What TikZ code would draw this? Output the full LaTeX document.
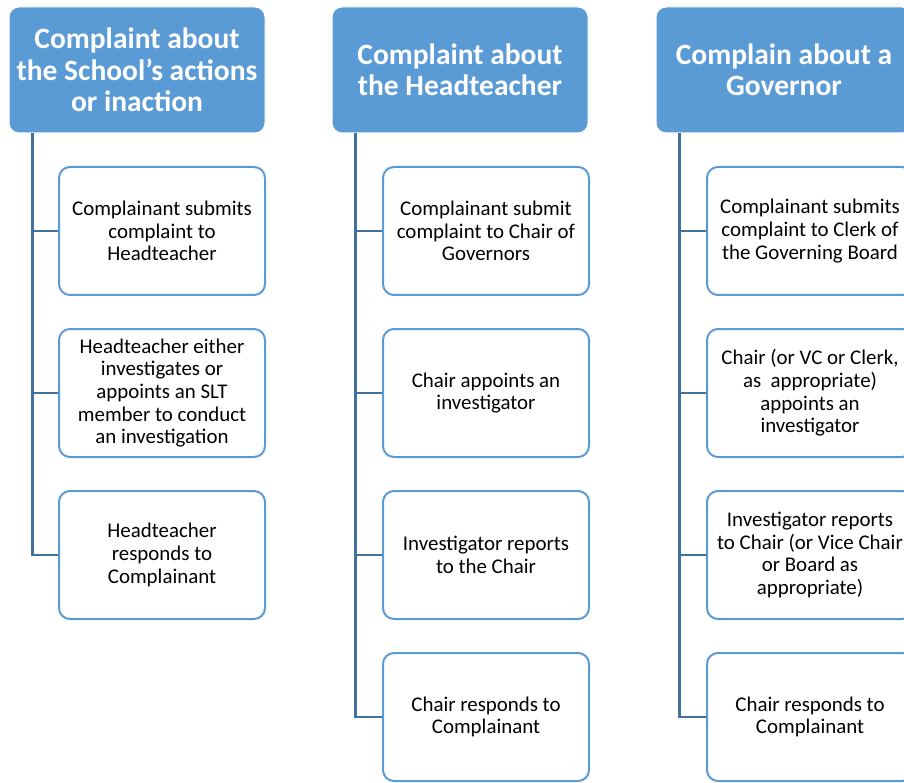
\documentclass[tikz,border=0pt]{standalone}
\usepackage{fontspec}
\setmainfont{Carlito}
\usetikzlibrary{calc}
\definecolor{headblue}{HTML}{5B9BD5}
\definecolor{edgeblue}{HTML}{5B9BD5}
\definecolor{linkblue}{HTML}{41719C}
\tikzset{
  header/.style={rectangle, rounded corners=10pt, fill=headblue, draw=white, line width=1pt,
    minimum width=256pt, minimum height=126pt, text=white, align=center,
    font=\fontsize{29.5}{31.5}\selectfont\bfseries, inner sep=0pt},
  stepbox/.style={rectangle, rounded corners=11pt, fill=white, draw=edgeblue, line width=2pt,
    minimum width=206pt, minimum height=128pt, text=black, align=center,
    font=\fontsize{20.9}{22.6}\selectfont, inner sep=0pt},
  conn/.style={draw=linkblue, line width=2.6pt}
}
\begin{document}
\begin{tikzpicture}[x=1pt,y=-1pt]
\useasboundingbox (0,0) rectangle (904,783);
\clip (0,0) rectangle (904,783);

% column headers
\node[header] (h1) at (137,70) {Complaint about\\the School’s actions\\or inaction};
\node[header] (h2) at (460,70) {Complaint about\\the Headteacher};
\node[header] (h3) at (784,70) {Complain about a\\Governor};

% column 1 steps
\node[stepbox] (a1) at (162,231) {Complainant submits\\complaint to\\Headteacher};
\node[stepbox] (a2) at (162,393) {Headteacher either\\investigates or\\appoints an SLT\\member to conduct\\an investigation};
\node[stepbox] (a3) at (162,555) {Headteacher\\responds to\\Complainant};

% column 2 steps
\node[stepbox] (b1) at (486,231) {Complainant submit\\complaint to Chair of\\Governors};
\node[stepbox] (b2) at (486,393) {Chair appoints an\\investigator};
\node[stepbox] (b3) at (486,555) {Investigator reports\\to the Chair};
\node[stepbox] (b4) at (486,717) {Chair responds to\\Complainant};

% column 3 steps
\node[stepbox] (c1) at (810,231) {Complainant submits\\complaint to Clerk of\\the Governing Board};
\node[stepbox] (c2) at (810,393) {Chair (or VC or Clerk,\\as\ \ appropriate)\\appoints an\\investigator};
\node[stepbox] (c3) at (810,555) {Investigator reports\\to Chair (or Vice Chair\\or Board as\\appropriate)};
\node[stepbox] (c4) at (810,717) {Chair responds to\\Complainant};

% spine coordinates under each header
\coordinate (s1) at ($(h1.south west)+(24,0)$);
\coordinate (s2) at ($(h2.south west)+(24,0)$);
\coordinate (s3) at ($(h3.south west)+(24,0)$);

% connectors
\foreach \n in {a1,a2,a3} \draw[conn] (s1) |- (\n.west);
\foreach \n in {b1,b2,b3,b4} \draw[conn] (s2) |- (\n.west);
\foreach \n in {c1,c2,c3,c4} \draw[conn] (s3) |- (\n.west);
\end{tikzpicture}
\end{document}
